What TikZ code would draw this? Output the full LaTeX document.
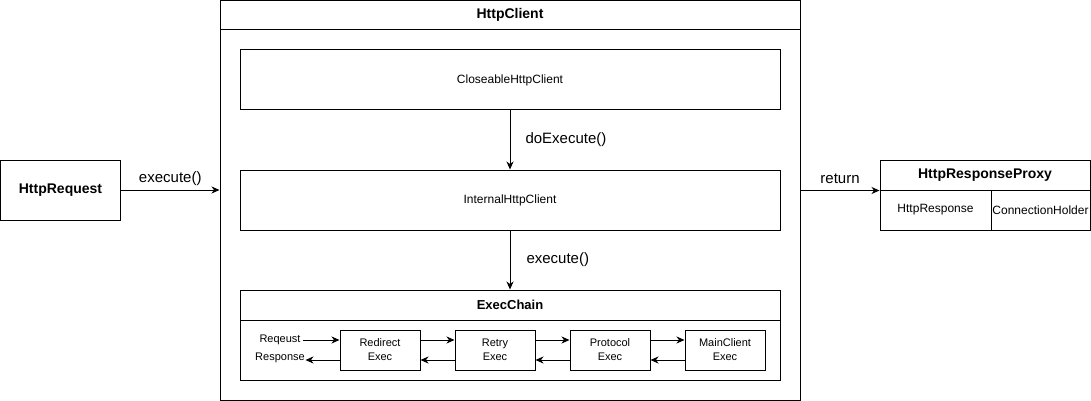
\documentclass[tikz,border=0pt]{standalone}
\usepackage{fontspec}
\setmainfont{Liberation Sans}
\usetikzlibrary{arrows.meta}

\begin{document}
\begin{tikzpicture}[x=1pt,y=-1pt,
  box/.style={draw,line width=1pt,inner sep=0pt,align=center,font=\fontsize{12}{14}\selectfont},
  small/.style={box,minimum width=80,minimum height=40,font=\fontsize{11}{14}\selectfont},
  title/.style={font=\bfseries\fontsize{14}{16}\selectfont},
  lbl/.style={font=\fontsize{15}{17}\selectfont,inner sep=0pt},
  arr/.style={line width=1pt,-{Stealth[length=8pt,width=7pt,inset=2.5pt]}}]
\useasboundingbox (0,0) rectangle (1091,401);
% HttpClient
\node[box,minimum width=580,minimum height=399] (client) at (510,200.5) {};
\node[title] (clientname) at (510,15) {HttpClient};
\draw[line width=1pt] (220,30) -- (800,30);
\node[box,minimum width=540,minimum height=60] (closeable) at (510,80) {CloseableHttpClient};
\node[box,minimum width=540,minimum height=60] (internal) at (510,200) {InternalHttpClient};
\draw[arr] (closeable) -- node[lbl,right=15pt] {doExecute()} (internal);
% ExecChain
\node[box,minimum width=540,minimum height=90] (chain) at (510,335) {};
\node[title,font=\bfseries\fontsize{13}{15}\selectfont] (chainname) at (510,305) {ExecChain};
\draw[line width=1pt] (240,320) -- (780,320);
\draw[arr] (internal) -- node[lbl,right=16pt] {execute()} (chain);
\node[small] (redirect) at (380,350) {Redirect\\Exec};
\node[small] (retry) at (495,350) {Retry\\Exec};
\node[small] (protocol) at (610,350) {Protocol\\Exec};
\node[small] (mainclient) at (725,350) {MainClient\\Exec};
\node[font=\fontsize{11}{14}\selectfont,inner sep=2pt] (req) at (280,340) {Reqeust};
\node[font=\fontsize{11}{14}\selectfont,inner sep=0.5pt] (resp) at (280,358) {Response};
\coordinate (rin) at ([yshift=-10pt]redirect.west);
\draw[arr] (req.east) -- ([yshift=10pt]redirect.west);
\draw[arr] (rin) -- (resp.east |- rin);
\foreach \a/\b in {redirect/retry,retry/protocol,protocol/mainclient}{
  \draw[arr] ([yshift=10pt]\a.east) -- ([yshift=10pt]\b.west);
  \draw[arr] ([yshift=-10pt]\b.west) -- ([yshift=-10pt]\a.east);
}
% HttpRequest
\node[box,title,minimum width=120,minimum height=60] (request) at (60.5,190) {HttpRequest};
\draw[arr] (request) -- node[lbl,above=4pt] {execute()} (request -| client.west);
% HttpResponseProxy
\node[box,title,minimum width=210,minimum height=30] (proxy) at (985,175) {HttpResponseProxy};
\node[box,minimum width=111,minimum height=40] (response) at (935.5,210) {HttpResponse};
\node[box,minimum width=99,minimum height=40] (holder) at (1040.5,210) {ConnectionHolder};
\draw[arr] (proxy.south west -| client.east) -- node[lbl,above=6pt] {return} (proxy.south west);
\end{tikzpicture}
\end{document}
